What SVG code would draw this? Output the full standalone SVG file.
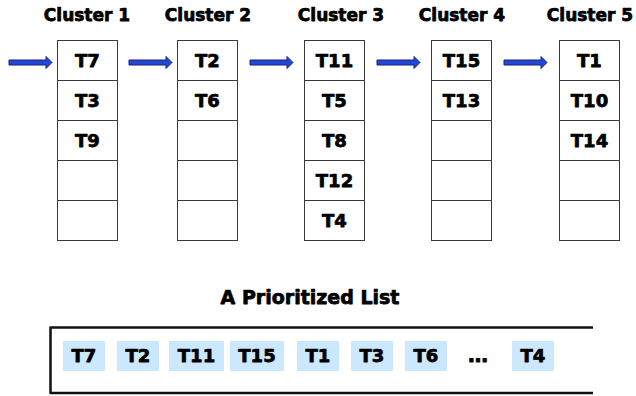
<svg xmlns="http://www.w3.org/2000/svg" width="636" height="396" viewBox="0 0 636 396">
  <defs>
    <style>
      .lbl { font-family: "DejaVu Sans", "Liberation Sans", sans-serif; font-weight: bold; fill: #000; stroke: #000; stroke-width: 0.75; stroke-linejoin: round; text-anchor: middle; }
      .head { font-size: 17px; }
      .cell-t { font-size: 18px; }
      .cell { fill: #fff; stroke: #3a3a3a; stroke-width: 1; }
      .chip { fill: #cce8ff; }
      .arrow { fill: #2446d0; stroke: #14208c; stroke-width: 1; stroke-linejoin: miter; }
    </style>
    <path id="arr" d="M0,-2.5 H37 V-6 L43,0 L37,6 V2.5 H0 Z"/>
  </defs>
  <rect width="636" height="396" fill="#fff"/>

  <g id="connectors">
    <use href="#arr" class="arrow" transform="translate(9,62.5)"/>
    <use href="#arr" class="arrow" transform="translate(129,62.5)"/>
    <use href="#arr" class="arrow" transform="translate(250,62.5)"/>
    <use href="#arr" class="arrow" transform="translate(377,62.5)"/>
    <use href="#arr" class="arrow" transform="translate(504,62.5)"/>
  </g>

  <g id="cluster1">
    <text class="lbl head" x="87" y="21">Cluster 1</text>
    <rect class="cell" x="57.5" y="40.5" width="60" height="40"/>
    <rect class="cell" x="57.5" y="80.5" width="60" height="40"/>
    <rect class="cell" x="57.5" y="120.5" width="60" height="40"/>
    <rect class="cell" x="57.5" y="160.5" width="60" height="40"/>
    <rect class="cell" x="57.5" y="200.5" width="60" height="40"/>
    <text class="lbl cell-t" x="87.5" y="66.5">T7</text>
    <text class="lbl cell-t" x="87.5" y="106.5">T3</text>
    <text class="lbl cell-t" x="87.5" y="146.5">T9</text>
  </g>

  <g id="cluster2">
    <text class="lbl head" x="208" y="21">Cluster 2</text>
    <rect class="cell" x="177.5" y="40.5" width="60" height="40"/>
    <rect class="cell" x="177.5" y="80.5" width="60" height="40"/>
    <rect class="cell" x="177.5" y="120.5" width="60" height="40"/>
    <rect class="cell" x="177.5" y="160.5" width="60" height="40"/>
    <rect class="cell" x="177.5" y="200.5" width="60" height="40"/>
    <text class="lbl cell-t" x="207.5" y="66.5">T2</text>
    <text class="lbl cell-t" x="207.5" y="106.5">T6</text>
  </g>

  <g id="cluster3">
    <text class="lbl head" x="341" y="21">Cluster 3</text>
    <rect class="cell" x="304.5" y="40.5" width="60" height="40"/>
    <rect class="cell" x="304.5" y="80.5" width="60" height="40"/>
    <rect class="cell" x="304.5" y="120.5" width="60" height="40"/>
    <rect class="cell" x="304.5" y="160.5" width="60" height="40"/>
    <rect class="cell" x="304.5" y="200.5" width="60" height="40"/>
    <text class="lbl cell-t" x="334.5" y="66.5">T11</text>
    <text class="lbl cell-t" x="334.5" y="106.5">T5</text>
    <text class="lbl cell-t" x="334.5" y="146.5">T8</text>
    <text class="lbl cell-t" x="334.5" y="186.5">T12</text>
    <text class="lbl cell-t" x="334.5" y="226.5">T4</text>
  </g>

  <g id="cluster4">
    <text class="lbl head" x="462" y="21">Cluster 4</text>
    <rect class="cell" x="431.5" y="40.5" width="60" height="40"/>
    <rect class="cell" x="431.5" y="80.5" width="60" height="40"/>
    <rect class="cell" x="431.5" y="120.5" width="60" height="40"/>
    <rect class="cell" x="431.5" y="160.5" width="60" height="40"/>
    <rect class="cell" x="431.5" y="200.5" width="60" height="40"/>
    <text class="lbl cell-t" x="461.5" y="66.5">T15</text>
    <text class="lbl cell-t" x="461.5" y="106.5">T13</text>
  </g>

  <g id="cluster5">
    <text class="lbl head" x="590" y="21">Cluster 5</text>
    <rect class="cell" x="559.5" y="40.5" width="60" height="40"/>
    <rect class="cell" x="559.5" y="80.5" width="60" height="40"/>
    <rect class="cell" x="559.5" y="120.5" width="60" height="40"/>
    <rect class="cell" x="559.5" y="160.5" width="60" height="40"/>
    <rect class="cell" x="559.5" y="200.5" width="60" height="40"/>
    <text class="lbl cell-t" x="589.5" y="66.5">T1</text>
    <text class="lbl cell-t" x="589.5" y="106.5">T10</text>
    <text class="lbl cell-t" x="589.5" y="146.5">T14</text>
  </g>

  <g id="prioritized-list">
    <text class="lbl" x="310" y="304" style="font-size:19px">A Prioritized List</text>
    <path d="M593,327.5 H50.5 V393 H593" fill="none" stroke="#111" stroke-width="2.5" stroke-linejoin="round"/>
    <rect class="chip" x="63" y="341" width="42" height="30"/>
    <rect class="chip" x="117" y="341" width="42" height="30"/>
    <rect class="chip" x="169" y="341" width="55" height="30"/>
    <rect class="chip" x="230" y="341" width="54" height="30"/>
    <rect class="chip" x="297" y="341" width="42" height="30"/>
    <rect class="chip" x="351" y="341" width="42" height="30"/>
    <rect class="chip" x="405" y="341" width="42" height="30"/>
    <rect class="chip" x="512" y="341" width="42" height="30"/>
    <text class="lbl cell-t" x="84" y="362">T7</text>
    <text class="lbl cell-t" x="138" y="362">T2</text>
    <text class="lbl cell-t" x="196.5" y="362">T11</text>
    <text class="lbl cell-t" x="257" y="362">T15</text>
    <text class="lbl cell-t" x="318" y="362">T1</text>
    <text class="lbl cell-t" x="372" y="362">T3</text>
    <text class="lbl cell-t" x="426" y="362">T6</text>
    <text class="lbl cell-t" x="478" y="362" style="font-size:20px">…</text>
    <text class="lbl cell-t" x="533" y="362">T4</text>
  </g>
</svg>
